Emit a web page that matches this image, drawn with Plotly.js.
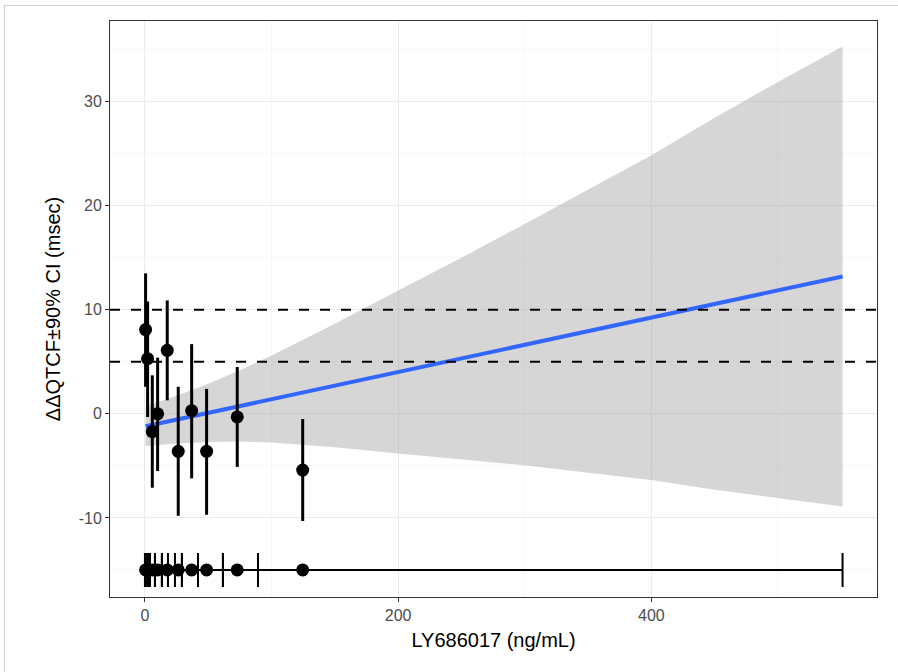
<!DOCTYPE html>
<html><head><meta charset="utf-8">
<script src="https://cdn.plot.ly/plotly-3.0.1.min.js"></script>
<style>
html,body{margin:0;padding:0;background:#fff;overflow:hidden}
#frame{position:absolute;left:4px;top:5px;width:900px;height:680px;border:1px solid #cfcfcf;box-sizing:border-box}
#chart{position:absolute;left:0;top:0;width:898px;height:672px}
</style></head><body><div id="frame"></div><div id="chart"></div>
<script>
// Binned concentration (ng/mL) and ΔΔQTcF with 90% CI
const conc     = [0.5, 2.1, 5.8, 10.0, 17.6, 26.3, 36.9, 48.7, 72.9, 124.6];
const ddqtcf   = [8.1, 5.3, -1.7, 0.0, 6.1, -3.6, 0.3, -3.6, -0.3, -5.4];
const ciLow    = [2.6, -0.3, -7.1, -5.5, 1.3, -9.8, -6.2, -9.7, -5.1, -10.3];
const ciHigh   = [13.5, 10.8, 3.7, 5.4, 10.9, 2.6, 6.7, 2.4, 4.5, -0.5];
// Concentration range of each bin (shown along the bottom)
const concMin  = [0, 0.8, 3.9, 7.9, 13.4, 23.7, 29.2, 41.9, 61.6, 89.3];
const concMax  = [2.4, 3.9, 7.9, 13.4, 18.2, 29.2, 41.9, 61.6, 89.3, 551];
const rugLevel = -15;
// Linear fit and its confidence band
const fitX     = [0.5, 551];
const fitY     = [-1.2, 13.2];
const bandX    = [0.5, 25, 50, 75, 100, 125, 150, 200, 250, 300, 350, 400, 450, 500, 551];
const bandLow  = [-3.1, -2.85, -2.7, -2.65, -2.75, -2.95, -3.2, -3.8, -4.4, -4.95, -5.65, -6.35, -7.3, -8.1, -8.9];
const bandHigh = [0.7, 1.75, 2.9, 4.2, 5.6, 7.1, 8.65, 11.85, 15.0, 18.25, 21.55, 24.85, 28.45, 31.9, 35.3];
// Reference thresholds
const refLines = [5, 10];
// Axis ticks
const xTicks = [0, 200, 400];
const xTickText = ['0', '200', '400'];
const yTicks = [-10, 0, 10, 20, 30];
const yTickText = ['-10', '0', '10', '20', '30'];

const FONT = 'Liberation Sans, Arial, Helvetica, sans-serif';

const traces = [
  {x: bandX, y: bandLow, type: 'scatter', mode: 'lines', line: {width: 0, color: 'rgba(0,0,0,0)'}, hoverinfo: 'skip'},
  {x: bandX, y: bandHigh, type: 'scatter', mode: 'lines', line: {width: 0, color: 'rgba(0,0,0,0)'},
   fill: 'tonexty', fillcolor: 'rgba(153,153,153,0.4)', hoverinfo: 'skip'},
  {x: fitX, y: fitY, type: 'scatter', mode: 'lines', line: {color: '#3366FF', width: 4}},
  {x: conc, y: ddqtcf, type: 'scatter', mode: 'markers',
   marker: {color: 'black', size: 13},
   error_y: {type: 'data', symmetric: false,
             array: ciHigh.map((h, i) => h - ddqtcf[i]),
             arrayminus: ciLow.map((l, i) => ddqtcf[i] - l),
             width: 0, thickness: 3, color: 'black'}},
  {x: conc, y: conc.map(() => rugLevel), type: 'scatter', mode: 'markers',
   marker: {color: 'black', size: 13},
   error_x: {type: 'data', symmetric: false,
             array: concMax.map((m, i) => m - conc[i]),
             arrayminus: concMin.map((m, i) => conc[i] - m),
             width: 17, thickness: 2, color: 'black'}}
];

const shapes = refLines.map(v => ({
  type: 'line', xref: 'paper', x0: 0, x1: 1, yref: 'y', y0: v, y1: v,
  line: {color: 'black', width: 2, dash: '10px,11px'}, layer: 'above'
}));

const axisCommon = {
  showgrid: true, gridcolor: '#EBEBEB', gridwidth: 1.1,
  zeroline: false, showline: true, mirror: true, linecolor: '#333333', linewidth: 1,
  ticks: 'outside', ticklen: 4, tickwidth: 1, tickcolor: '#333333',
  tickfont: {family: FONT, size: 16, color: '#4D4D4D'}
};

const layout = {
  width: 898, height: 672,
  margin: {l: 110, r: 21, t: 21, b: 75},
  paper_bgcolor: 'rgba(0,0,0,0)', plot_bgcolor: 'white',
  showlegend: false, hovermode: false,
  xaxis: Object.assign({}, axisCommon, {
    range: [-27.6, 578.2], tickmode: 'array', tickvals: xTicks, ticktext: xTickText,
    minor: {tickvals: [100, 300, 500], showgrid: true, gridcolor: '#F2F2F2', gridwidth: 0.6, ticks: ''},
    title: {text: 'LY686017 (ng/mL)', font: {family: FONT, size: 20, color: 'black'}, standoff: 9}
  }),
  yaxis: Object.assign({}, axisCommon, {
    range: [-17.6, 37.75], tickmode: 'array', tickvals: yTicks, ticktext: yTickText,
    minor: {tickvals: [-15, -5, 5, 15, 25, 35], showgrid: true, gridcolor: '#F2F2F2', gridwidth: 0.6, ticks: ''},
    title: {text: 'ΔΔQTCF±90% CI (msec)', font: {family: FONT, size: 20, color: 'black'}, standoff: 12}
  }),
  shapes: shapes
};

Plotly.newPlot('chart', traces, layout, {staticPlot: true, displayModeBar: false});
</script></body></html>
